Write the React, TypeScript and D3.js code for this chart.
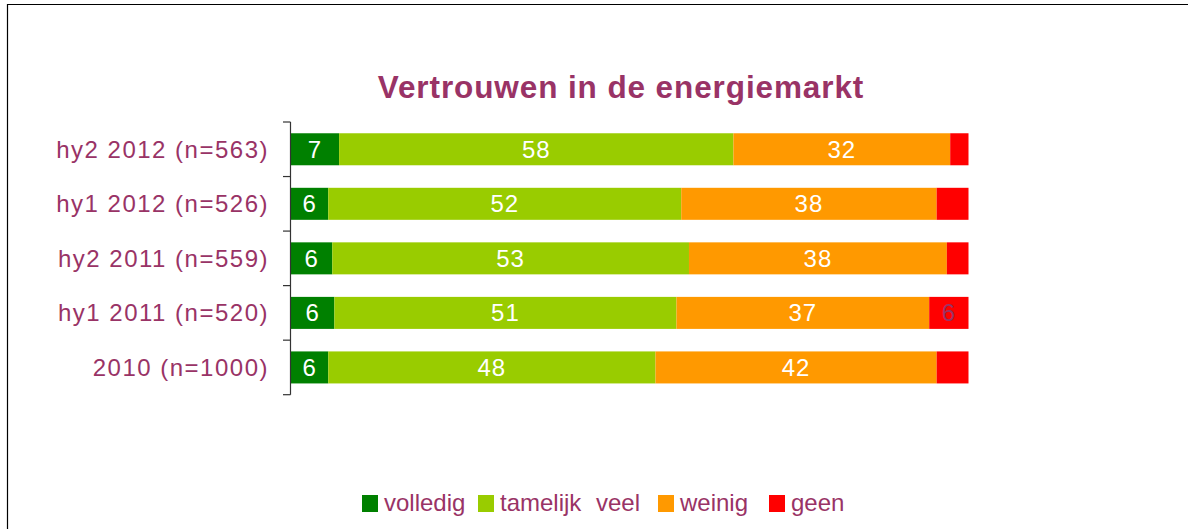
import * as d3 from 'd3';
import { useEffect, useRef } from 'react';

// Categories (top to bottom) and series values in percent
const categories = [
  'hy2 2012 (n=563)',
  'hy1 2012 (n=526)',
  'hy2 2011 (n=559)',
  'hy1 2011 (n=520)',
  '2010 (n=1000)',
];
const seriesNames = ['volledig', 'tamelijk veel', 'weinig', 'geen'];
const volledig = [7.1, 5.5, 6.1, 6.4, 5.5];
const tamelijkVeel = [58.2, 52.1, 52.7, 50.5, 48.3];
const weinig = [32.0, 37.7, 38.1, 37.3, 41.5];
const geen = [2.7, 4.7, 3.2, 5.8, 4.7];

const COLORS = ['#008000', '#99CC00', '#FF9900', '#FF0000'];
const LABEL_COLORS = ['#ffffff', '#ffffff', '#ffffff', '#993366'];
const TEXT = '#993366';
const FONT = '"Liberation Sans", Arial, sans-serif';

const WIDTH = 1188;
const HEIGHT = 529;
const PLOT = { left: 291, right: 968.5, top: 122, bottom: 394.7 };
const MIN_LABEL_WIDTH = 34;
// legend item left edges
const LEGEND_X = [362, 478, 658, 769];

export default function App() {
  const ref = useRef<SVGSVGElement | null>(null);

  useEffect(() => {
    const svg = d3.select(ref.current);
    svg.selectAll('*').remove();

    // outer frame: only the top and left edges are in view
    svg
      .append('path')
      .attr('d', `M7.5,${HEIGHT + 2} V4.5 H${WIDTH + 2}`)
      .attr('fill', 'none')
      .attr('stroke', '#000')
      .attr('stroke-width', 1.2);

    // title
    svg
      .append('text')
      .attr('x', 621)
      .attr('y', 98)
      .attr('text-anchor', 'middle')
      .attr('font-family', FONT)
      .attr('font-weight', 'bold')
      .attr('font-size', 31.5)
      .attr('letter-spacing', 0.9)
      .attr('fill', TEXT)
      .text('Vertrouwen in de energiemarkt');

    const series = [volledig, tamelijkVeel, weinig, geen];
    const rows = categories.map((cat, i) => {
      const vals = series.map((s) => s[i]);
      const total = d3.sum(vals);
      return { cat, vals, total };
    });

    const x = d3.scaleLinear().domain([0, 100]).range([PLOT.left, PLOT.right]);
    const pi = 0.413;
    const y = d3
      .scaleBand<string>()
      .domain(categories)
      .range([PLOT.top, PLOT.bottom])
      .paddingInner(pi)
      .paddingOuter(pi / 2);
    const step = y.step();

    const g = svg.append('g');

    rows.forEach((row) => {
      let acc = 0;
      row.vals.forEach((v, j) => {
        const p0 = (acc / row.total) * 100;
        acc += v;
        const p1 = (acc / row.total) * 100;
        const x0 = x(p0);
        const x1 = x(p1);
        const yy = y(row.cat) as number;
        g.append('rect')
          .attr('x', x0)
          .attr('y', yy)
          .attr('width', x1 - x0)
          .attr('height', y.bandwidth())
          .attr('fill', COLORS[j]);
        if (x1 - x0 >= MIN_LABEL_WIDTH) {
          g.append('text')
            .attr('x', (x0 + x1) / 2)
            .attr('y', yy + y.bandwidth() / 2 + 8.5)
            .attr('text-anchor', 'middle')
            .attr('font-family', FONT)
            .attr('font-size', 24)
            .attr('letter-spacing', 1)
            .attr('fill', LABEL_COLORS[j])
            .text(String(Math.round(v)));
        }
      });
    });

    // category axis with ticks at band boundaries
    const axis = svg.append('g').attr('stroke', '#333').attr('stroke-width', 1.2);
    axis
      .append('line')
      .attr('x1', PLOT.left - 0.5)
      .attr('x2', PLOT.left - 0.5)
      .attr('y1', PLOT.top)
      .attr('y2', PLOT.bottom);
    d3.range(categories.length + 1).forEach((k) => {
      const ty = PLOT.top + k * step;
      axis
        .append('line')
        .attr('x1', PLOT.left - 8)
        .attr('x2', PLOT.left - 0.5)
        .attr('y1', ty)
        .attr('y2', ty);
    });

    svg
      .append('g')
      .selectAll('text')
      .data(categories)
      .join('text')
      .attr('x', 269)
      .attr('y', (d) => (y(d) as number) + y.bandwidth() / 2 + 8.5)
      .attr('text-anchor', 'end')
      .attr('font-family', FONT)
      .attr('font-size', 24)
      .attr('letter-spacing', 1.5)
      .attr('fill', TEXT)
      .text((d) => d);

    // legend
    const legend = svg.append('g');
    seriesNames.forEach((name, j) => {
      const lx = LEGEND_X[j];
      legend
        .append('rect')
        .attr('x', lx)
        .attr('y', 495)
        .attr('width', 16)
        .attr('height', 17)
        .attr('fill', COLORS[j]);
      legend
        .append('text')
        .attr('x', lx + 22)
        .attr('y', 511)
        .attr('font-family', FONT)
        .attr('font-size', 24)
        .attr('word-spacing', 8)
        .attr('fill', TEXT)
        .text(name);
    });
  }, []);

  return (
    <svg
      ref={ref}
      width={WIDTH}
      height={HEIGHT}
      style={{ position: 'absolute', left: 0, top: 0, background: 'white' }}
    />
  );
}
